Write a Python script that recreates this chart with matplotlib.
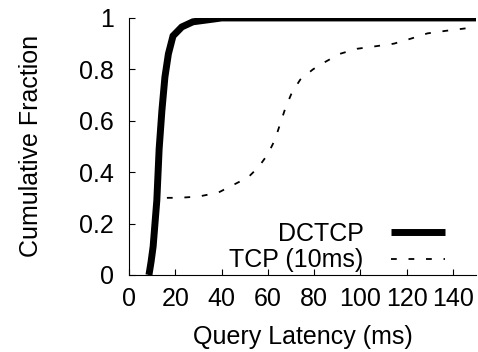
import matplotlib
matplotlib.use("Agg")
import matplotlib.pyplot as plt

plt.rcParams['font.family'] = ['Liberation Sans', 'DejaVu Sans']

# Cumulative latency distributions (ms, fraction)
dctcp_ms = [8.6, 9.5, 10.4, 11.2, 12.0, 13.0, 14.2, 15.5, 17.0, 19.0, 22.8, 27.6, 36.0, 40.0, 150.0]
dctcp_cdf = [0.0, 0.05, 0.11, 0.2, 0.29, 0.49, 0.64, 0.77, 0.86, 0.93, 0.965, 0.985, 0.995, 1.0, 1.0]

tcp_ms = [8.6, 10.0, 11.0, 12.0, 15.0, 21.6, 30.0, 38.5, 45.0, 51.5, 56.0, 60.0, 63.0,
          65.4, 67.6, 70.4, 74.0, 79.5, 85.0, 91.0, 98.5, 106.7, 114.5, 122.0, 129.0,
          137.0, 146.0, 150.0]
tcp_cdf = [0.0, 0.1, 0.2, 0.3, 0.3, 0.30, 0.305, 0.32, 0.35, 0.38, 0.42, 0.47, 0.525,
           0.59, 0.65, 0.71, 0.76, 0.80, 0.83, 0.86, 0.88, 0.89, 0.90, 0.92, 0.94,
           0.95, 0.96, 0.965]

x_ticks = [0, 20, 40, 60, 80, 100, 120, 140]
y_ticks = [0, 0.2, 0.4, 0.6, 0.8, 1]
y_tick_labels = ['0', '0.2', '0.4', '0.6', '0.8', '1']

FS = 18

fig = plt.figure(figsize=(4.78, 3.52), dpi=100)
ax = fig.add_axes([0.27, 0.219, 0.726, 0.730])

ax.plot(dctcp_ms, dctcp_cdf, color='black', lw=5, solid_capstyle='butt',
        solid_joinstyle='miter', label='DCTCP')
ax.plot(tcp_ms, tcp_cdf, color='black', lw=1.3, linestyle=(0, (3.2, 6.5)),
        label='TCP (10ms)')

ax.set_xlim(0, 150)
ax.set_ylim(0, 1)
ax.set_xticks(x_ticks)
ax.set_yticks(y_ticks)
ax.set_yticklabels(y_tick_labels)
ax.tick_params(direction='in', length=4, width=0.8, labelsize=FS)
ax.tick_params(axis='x', pad=9)
ax.tick_params(axis='y', pad=11)
for s in ('top', 'right'):
    ax.spines[s].set_visible(False)

ax.set_xlabel('Query Latency (ms)', fontsize=FS, labelpad=10)
ax.set_ylabel('Cumulative Fraction', fontsize=FS, labelpad=26)

ax.legend(loc='lower right', bbox_to_anchor=(0.91, 0.01), frameon=False,
          markerfirst=False, fontsize=FS, handlelength=2.15, handletextpad=1.1,
          labelspacing=0.1, borderpad=0, borderaxespad=0)

fig.savefig('out.png', dpi=100)
